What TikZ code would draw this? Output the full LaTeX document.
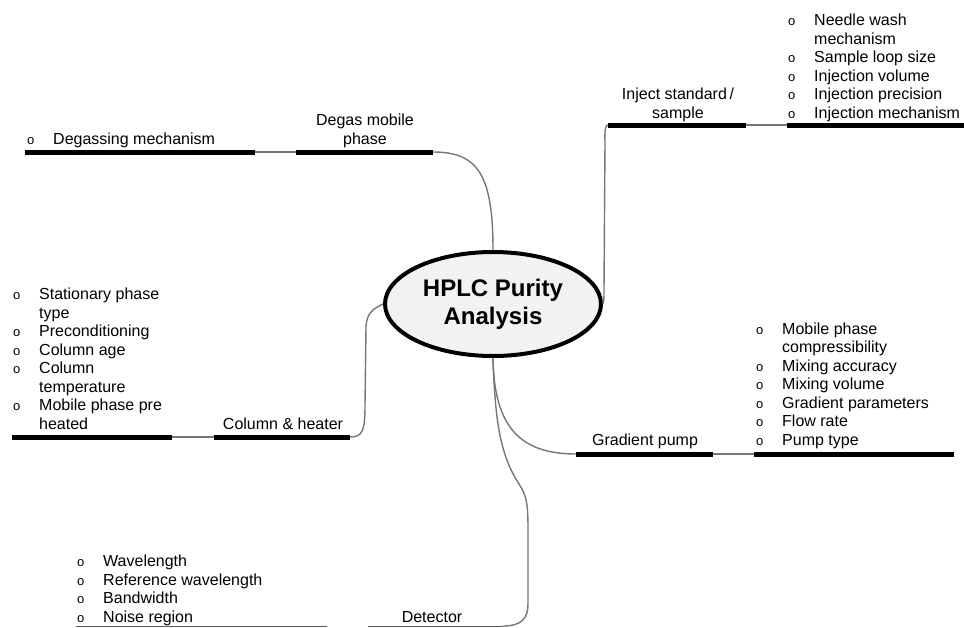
\documentclass[tikz,border=0pt]{standalone}
\usepackage{fontspec}
\setmainfont{Liberation Sans}
\usetikzlibrary{shapes.geometric}
\definecolor{hubfill}{HTML}{F2F2F2}
\definecolor{wire}{HTML}{767676}
\newcommand\bul{\makebox[26pt][l]{\fontsize{13}{18.5}\selectfont o}}
\newcommand\cont{\hspace*{26pt}}
\newcommand\rows[1]{\begin{tabular}[b]{@{}l@{}}#1\end{tabular}}
\newcommand\crows[1]{\begin{tabular}[b]{@{}c@{}}#1\end{tabular}}
\tikzset{
  bar/.style={line width=5pt, black},
  link/.style={line width=1.2pt, wire},
  conn/.style={line width=1.4pt, wire},
  base/.style={line width=1pt, black!65},
  txt/.style={inner sep=0pt, font=\fontsize{16}{18.5}\selectfont},
  hubnode/.style={ellipse, draw=black, line width=4pt, fill=hubfill,
    minimum width=216pt, minimum height=104pt, inner sep=0pt,
    align=center, font=\fontsize{24}{28}\selectfont\bfseries}
}
\begin{document}
\begin{tikzpicture}[x=1pt, y=-1pt]
\useasboundingbox (0,0) rectangle (964,627);

% central topic
\node[hubnode] (hub) at (493,304) {HPLC Purity\\Analysis};

% ---- degassing branch
\coordinate (dgA) at (25,152);
\coordinate (dgB) at (255,152);
\coordinate (dgC) at (296,152);
\coordinate (dgD) at (433,152);
\draw[bar] (dgA) -- (dgB);
\draw[link] (dgB) -- (dgC);
\draw[bar] (dgC) -- (dgD);
\draw[conn] (dgD) .. controls +(45,0) and +(0,-75) .. (hub.north);
\node[txt, anchor=base] (dgLabel) at (365,144) {\crows{Degas mobile\\phase}};
\node[txt, anchor=base west] (dgList) at (27,144) {\rows{\bul Degassing mechanism}};

% ---- injection branch
\coordinate (inA) at (608,125);
\coordinate (inB) at (746,125);
\coordinate (inC) at (787,125);
\coordinate (inD) at (964,125);
\draw[bar] (inA) -- (inB);
\draw[link] (inB) -- (inC);
\draw[bar] (inC) -- (inD);
\draw[conn] (inA) .. controls +(-4,0) and +(0,-3) .. (605,142) -- (604,290)
  .. controls +(0,8) and +(1,-4) .. (hub.east);
\node[txt, anchor=base] (inLabel) at (678,118) {\crows{Inject standard\,/\\sample}};
\node[txt, anchor=base west] (inList) at (788,118) {\rows{\bul Needle wash\\
  \cont mechanism\\ \bul Sample loop size\\ \bul Injection volume\\
  \bul Injection precision\\ \bul Injection mechanism}};

% ---- column branch
\coordinate (coA) at (12,437);
\coordinate (coB) at (172,437);
\coordinate (coC) at (214,437);
\coordinate (coD) at (350,437);
\draw[bar] (coA) -- (coB);
\draw[link] (coB) -- (coC);
\draw[bar] (coC) -- (coD);
\draw[conn] (coD) .. controls +(13,0) and +(0,25) .. (365,405) -- (366,328)
  .. controls +(0,-16) and +(-8,4) .. (hub.west);
\node[txt, anchor=base] (coLabel) at (283,429) {Column \& heater};
\node[txt, anchor=base west] (coList) at (13,429) {\rows{\bul Stationary phase\\
  \cont type\\ \bul Preconditioning\\ \bul Column age\\ \bul Column\\
  \cont temperature\\ \bul Mobile phase pre\\ \cont heated}};

% ---- pump branch
\coordinate (gpA) at (576,454);
\coordinate (gpB) at (713,454);
\coordinate (gpC) at (754,454);
\coordinate (gpD) at (954,454);
\draw[bar] (gpA) -- (gpB);
\draw[link] (gpB) -- (gpC);
\draw[bar] (gpC) -- (gpD);
\draw[conn] (hub.south) .. controls +(1,70) and +(-55,0) .. (gpA);
\node[txt, anchor=base] (gpLabel) at (645,445) {Gradient pump};
\node[txt, anchor=base west] (gpList) at (756,445) {\rows{\bul Mobile phase\\
  \cont compressibility\\ \bul Mixing accuracy\\ \bul Mixing volume\\
  \bul Gradient parameters\\ \bul Flow rate\\ \bul Pump type}};

% ---- detector branch
\coordinate (deA) at (76,626);
\coordinate (deB) at (327,626);
\coordinate (deC) at (368,626);
\coordinate (deD) at (503,626);
\draw[base] (deA) -- (deB);
\draw[base] (deC) -- (deD);
\draw[conn] (hub.south) .. controls (495,420) and (500,455) .. (519,484)
  .. controls (527,496) and (528,505) .. (528,530) -- (528,604)
  .. controls (528,618) and (522,626) .. (deD);
\node[txt, anchor=base] (deLabel) at (432,622) {Detector};
\node[txt, anchor=base west] (deList) at (77,622) {\rows{\bul Wavelength\\
  \bul Reference wavelength\\ \bul Bandwidth\\ \bul Noise region}};
\end{tikzpicture}
\end{document}
